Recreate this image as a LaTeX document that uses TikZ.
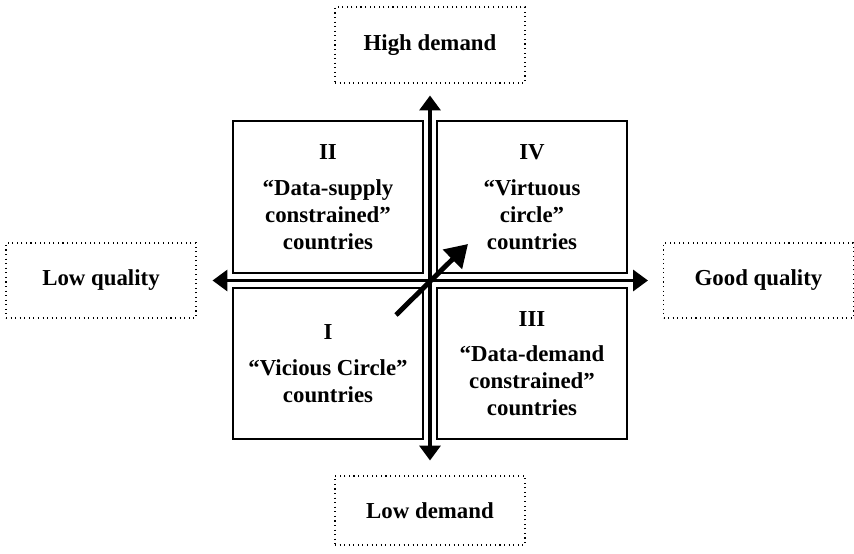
\documentclass[tikz,border=0pt]{standalone}
\usepackage{fontspec}
\setmainfont{Liberation Serif}
\usetikzlibrary{arrows,arrows.meta}
\usetikzlibrary{calc}

\tikzset{
    quadrant/.style={draw, line width=0.6pt, minimum width=3.8cm, align=center, inner sep=0pt,
        font=\fontsize{13}{15.3}\selectfont\bfseries},
    axislabel/.style={draw, dotted, line width=0.6pt, minimum width=3.8cm, minimum height=1.5cm,
        inner sep=0pt, font=\fontsize{13}{15.3}\selectfont\bfseries},
    axis/.style={line width=1.8pt, {Triangle[width=12pt,length=8.5pt]}-{Triangle[width=12pt,length=8.5pt]}},
}

\begin{document}
\begin{tikzpicture}

    \useasboundingbox (0,0) rectangle (17.08,-11.08);

    % quadrants
    \node[quadrant, minimum height=3.04cm] (qII) at (6.56,-3.94) {II\\[5pt]“Data-supply\\constrained”\\countries};
    \node[quadrant, minimum height=3.04cm] (qIV) at (10.64,-3.94) {IV\\[5pt]“Virtuous\\circle”\\countries};
    \node[quadrant, minimum height=3.02cm] (qI) at (6.56,-7.27) {I\\[5pt]“Vicious Circle”\\countries};
    \node[quadrant, minimum height=3.02cm] (qIII) at (10.64,-7.27) {III\\[5pt]“Data-demand\\constrained”\\countries};

    % axis labels
    \node[axislabel, minimum height=1.52cm] (hd) at (8.6,-0.9) {High demand};
    \node[axislabel, minimum height=1.38cm] (ld) at (8.6,-10.21) {Low demand};
    \node[axislabel] (lq) at (2.02,-5.61) {Low quality};
    \node[axislabel] (gq) at (15.17,-5.61) {Good quality};

    \draw[axis, shorten <=0.24cm, shorten >=0.3cm] (hd) -- (ld);
    \draw[axis, shorten <=0.32cm, shorten >=0.3cm] (lq) -- (gq);

    % diagonal arrow
    \coordinate (dtail) at (7.92,-6.3);
    \coordinate (dtip) at (9.36,-4.88);
    \draw[line width=2.8pt, -{Triangle[width=15pt,length=12.5pt]}] (dtail) -- (dtip);

\end{tikzpicture}
\end{document}
